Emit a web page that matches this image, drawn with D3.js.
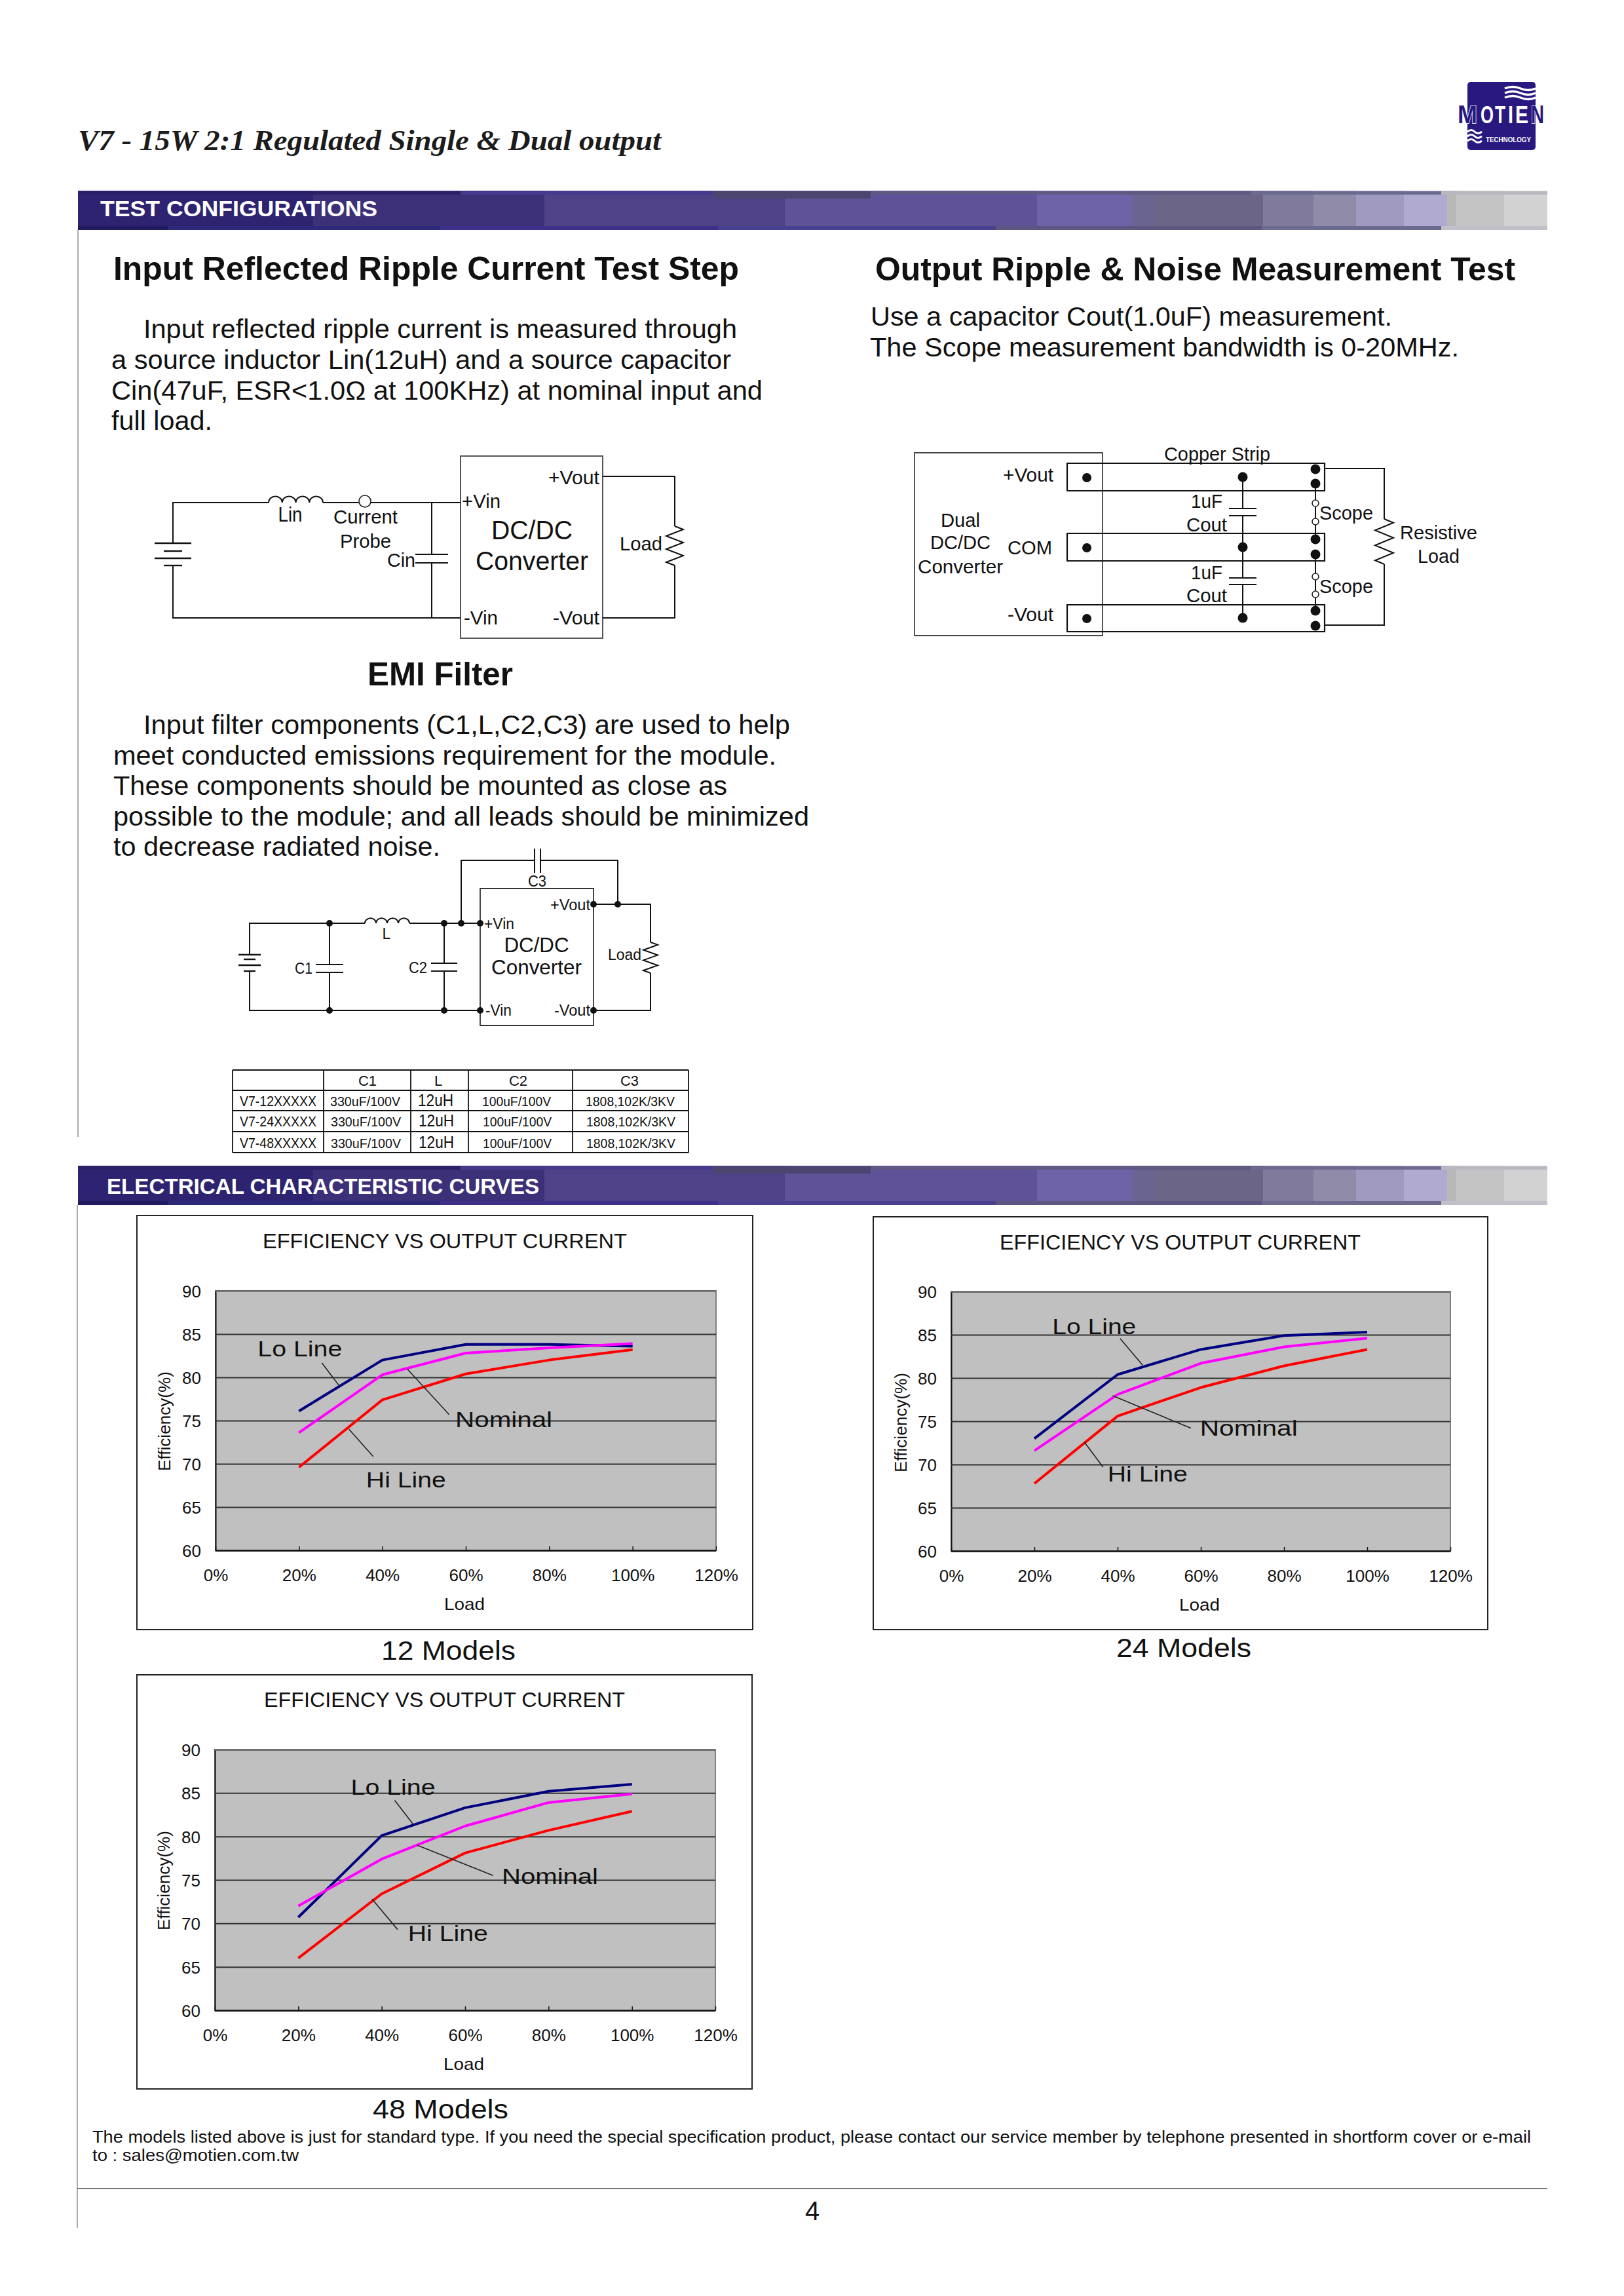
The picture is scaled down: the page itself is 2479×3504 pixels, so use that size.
<!DOCTYPE html>
<html><head><meta charset="utf-8">
<script src="https://cdn.jsdelivr.net/npm/d3@7/dist/d3.min.js"></script>
<style>html,body{margin:0;padding:0;background:#fff}svg{display:block}text{font-family:"Liberation Sans",Arial,sans-serif;fill:#111}</style>
</head><body><svg id="page" width="2479" height="3504"></svg>
<script>
// ---------- chart data ----------
const loads = [20, 40, 60, 80, 100];
const xTicks = [0, 20, 40, 60, 80, 100, 120];
const yTicks = [60, 65, 70, 75, 80, 85, 90];
const chartTitle = "EFFICIENCY VS OUTPUT CURRENT";
const lo12  = [76.1, 82.0, 83.8, 83.8, 83.6];
const nom12 = [73.6, 80.3, 82.8, 83.4, 83.9];
const hi12  = [69.6, 77.4, 80.4, 82.0, 83.2];
const lo24  = [73.0, 80.4, 83.3, 84.9, 85.3];
const nom24 = [71.6, 78.1, 81.7, 83.6, 84.6];
const hi24  = [67.8, 75.6, 78.9, 81.4, 83.3];
const lo48  = [70.7, 80.1, 83.3, 85.2, 86.0];
const nom48 = [72.0, 77.4, 81.2, 83.9, 84.9];
const hi48  = [66.0, 73.4, 78.1, 80.7, 82.9];
// annotations in data units: [load%, efficiency]
const labels12 = [["Lo Line",10.1,82.46,129],["Nominal",57.5,74.27,148],["Hi Line",36.1,67.3,122]];
const labels24 = [["Lo Line",24.3,85.1,128],["Nominal",59.8,73.3,149],["Hi Line",37.6,68.05,122]];
const labels48 = [["Lo Line",32.6,84.8,129],["Nominal",68.8,74.55,147],["Hi Line",46.3,68.0,122]];
const leaders12 = [[25.5,81.67,29.7,78.99],[45.9,81.0,56,75.7],[32,74.0,37.8,70.85]];
const leaders24 = [[40.6,84.57,46,81.5],[38.8,77.95,57.6,74.2],[32,72.6,36.5,69.7]];
const leaders48 = [[43.1,84.16,47.5,81.42],[48.5,79,66.7,75.5],[37.7,72.8,43.8,69.3]];
// EMI table
const tableHead = ["", "C1", "L", "C2", "C3"];
const tableRows = [
 ["V7-12XXXXX","330uF/100V","12uH","100uF/100V","1808,102K/3KV"],
 ["V7-24XXXXX","330uF/100V","12uH","100uF/100V","1808,102K/3KV"],
 ["V7-48XXXXX","330uF/100V","12uH","100uF/100V","1808,102K/3KV"]];

// ---------- helpers ----------
const svg = d3.select("#page");
function T(x,y,s,size,o={}){ // o.w forces the measured width, o.a anchor
  const e = (o.p||svg).append("text").attr("x",x).attr("y",y).attr("font-size",size).text(s);
  if(o.a) e.attr("text-anchor",o.a);
  if(o.b) e.attr("font-weight","bold");
  if(o.fill) e.style("fill",o.fill);
  if(o.w) e.attr("textLength",o.w).attr("lengthAdjust","spacingAndGlyphs");
  if(o.serif) e.style("font-family",'"Liberation Serif",serif').attr("font-style","italic");
  return e;
}
function W(d,sw=2,c="#111"){svg.append("path").attr("d",d).attr("fill","none").attr("stroke",c).attr("stroke-width",sw);}
function dot(x,y,r=6){svg.append("circle").attr("cx",x).attr("cy",y).attr("r",r).attr("fill","#111");}
function ring(x,y,r){svg.append("circle").attr("cx",x).attr("cy",y).attr("r",r).attr("fill","#fff").attr("stroke","#222").attr("stroke-width",1.6);}
function inductor(x0,x1,y,n=4){const w=(x1-x0)/n;let d=`M${x0},${y}`;for(let i=0;i<n;i++){d+=`A${w/2},${w/2.2} 0 0 1 ${x0+w*(i+1)},${y}`;}W(d);}
function zig(x,y0,y1,a=13,n=6){const h=(y1-y0)/n;let d=`M${x},${y0}L${x+a},${y0+h/2}`;for(let i=1;i<n;i++){d+=`L${x+(i%2?-a:a)},${y0+h/2+h*i}`;}d+=`L${x},${y1}`;W(d);}
function capH(x,y0,y1,hw){W(`M${x-hw},${y0}H${x+hw}M${x-hw},${y1}H${x+hw}`,2.2);}
function battery(x,ys,wide,narrow){ys.forEach((y,i)=>W(`M${x-(i%2?narrow:wide)},${y}H${x+(i%2?narrow:wide)}`,2.4));}

// ---------- title + logo ----------
T(119,229,"V7 - 15W 2:1 Regulated Single & Dual output",44,{b:1,serif:1,w:890,fill:"#1c1c1c"});
(function logo(){
  const g=svg.append("g");
  g.append("rect").attr("x",2240).attr("y",125).attr("width",104).attr("height",104).attr("rx",5).attr("fill","#28187f");
  [0,7,14].forEach(d=>{
    g.append("path").attr("d",`M2297,${135+d}q12,-5 24,0t23,0`).attr("fill","none").attr("stroke","#fff").attr("stroke-width",3.5);
    g.append("path").attr("d",`M2240,${201+d}q6,-5 11,0t11,0`).attr("fill","none").attr("stroke","#fff").attr("stroke-width",3);
  });
  [["M",2225,30],["N",2337,20]].forEach(l=>{
    T(l[1],188,l[0],38,{p:g,b:1,w:l[2],fill:"#28187f"}).attr("stroke","#fff").attr("stroke-width",1.5).attr("paint-order","stroke");
  });
  [["O",2260,20],["T",2282,16],["I",2302,8],["E",2313,20]].forEach(l=>T(l[1],188,l[0],36,{p:g,b:1,w:l[2],fill:"#fff"}));
  T(2268,217,"TECHNOLOGY",11,{p:g,b:1,w:69,fill:"#fff"});
})();

// ---------- section bands ----------
const bandEdges = [119,478,831,1198,1583,1729,1762,1928,2005,2070,2143,2209,2223,2296,2362];
const bandFill = ["#2d2370","#3c3178","#4f4288","#5f5298","#6e62a8","#6a6590","#6b6588","#807a9c","#908ba8","#a09ac0","#b0aad0","#b8b8b8","#c4c4c4","#d2d2d2"];
const topEdges = [119,703,1089,1329,1910,2200,2362], topFill=["#2b2068","#453a8c","#4c4570","#5f5a82","#6d6a90","#b8b8c0"];
const botEdges = [119,256,672,1096,1520,1926,2200,2362], botFill=["#201a60","#2e2878","#3c3088","#4a4090","#5c5680","#6d6a90","#c0c0c8"];
function band(y,label,tx,ty,tw){
  bandFill.forEach((c,i)=>svg.append("rect").attr("x",bandEdges[i]).attr("y",y).attr("width",bandEdges[i+1]-bandEdges[i]).attr("height",60).attr("fill",c));
  topFill.forEach((c,i)=>svg.append("rect").attr("x",topEdges[i]).attr("y",y+1).attr("width",topEdges[i+1]-topEdges[i]).attr("height",i==2?11:5).attr("fill",c));
  botFill.forEach((c,i)=>svg.append("rect").attr("x",botEdges[i]).attr("y",y+54).attr("width",botEdges[i+1]-botEdges[i]).attr("height",6).attr("fill",c));
  T(tx,ty,label,33,{b:1,fill:"#fff",w:tw});
}
band(291,"TEST CONFIGURATIONS",153,330,423);
band(1779,"ELECTRICAL CHARACTERISTIC CURVES",163,1822,660);
// page rules
W("M119,351V1735",2,"#aaa");
W("M118,1839V3400",2,"#aaa");
W("M118,3340H2362",2,"#777");

// ---------- headings + paragraphs ----------
T(173,427,"Input Reflected Ripple Current Test Step",50,{b:1,w:955});
T(1336,428,"Output Ripple & Noise Measurement Test",50,{b:1,w:977});
T(561,1046,"EMI Filter",50,{b:1,w:222});
[[219,516,906,"Input reflected ripple current is measured through"],
 [170,563,946,"a source inductor Lin(12uH) and a source capacitor"],
 [170,610,994,"Cin(47uF, ESR<1.0\u03A9 at 100KHz) at nominal input and"],
 [170,656,154,"full load."],
 [1329,497,796,"Use a capacitor Cout(1.0uF) measurement."],
 [1328,544,899,"The Scope measurement bandwidth is 0-20MHz."],
 [219,1120,987,"Input filter components (C1,L,C2,C3) are used to help"],
 [173,1167,1012,"meet conducted emissions requirement for the module."],
 [173,1213,937,"These components should be mounted as close as"],
 [173,1260,1062,"possible to the module; and all leads should be minimized"],
 [173,1306,499,"to decrease radiated noise."]
].forEach(r=>T(r[0],r[1],r[3],41,{w:r[2]}));

// ---------- schematic 1 ----------
W("M703,696H920V974H703Z",2,"#555");
W("M264,828V767H410");inductor(410,493,767);W("M493,767H548M566,767H703");ring(557,765,9);
W("M659,767V846M659,859V943M264,863V943H703");
capH(659,846,859,25);battery(264,[829,841,852,863],28,14);
W("M920,727H1030V803");zig(1030,803,863);W("M1030,863V943H920");
[[443,796,"Lin",31,"middle",37],[558,799,"Current",30,"middle",98],[558,836,"Probe",30,"middle",78],[591,865,"Cin",30,null,43],
 [837,739,"+Vout",30,null,78],[705,775,"+Vin",30,null,59],[812,823,"DC/DC",40,"middle",124],[812,870,"Converter",40,"middle",172],
 [946,840,"Load",30,null,65],[708,953,"-Vin",30,null,52],[844,953,"-Vout",30,null,71]
].forEach(r=>T(r[0],r[1],r[2],r[3],{a:r[4],w:r[5]}));

// ---------- schematic 2 ----------
W("M1396,691H1683V970H1396Z",1.8,"#444");
[[707,749],[814,856],[923,964]].forEach(s=>W(`M1629,${s[0]}H2022V${s[1]}H1629Z`,2.2));
[729,836,944].forEach(y=>dot(1659,y,7));
[728,835,943].forEach(y=>dot(1897,y,7.5));
[716,738,823,846,932,955].forEach(y=>dot(2008,y,7.5));
W("M1897,728V776M1897,787V882M1897,892V943");capH(1897,776,787,21);capH(1897,882,892,21);
W("M2008,738V823M2008,846V932",2);
[768,796,880,907].forEach(y=>ring(2008,y,5));
W("M2022,715H2113V792");zig(2113,792,861,14);W("M2113,861V954H2022");
[[1777,703,"Copper Strip",162],[1531,735,"+Vout",77],[1538,846,"COM",68],[1538,948,"-Vout",70],
 [1818,775,"1uF",48],[1811,811,"Cout",62],[1818,884,"1uF",48],[1811,919,"Cout",62],
 [2014,793,"Scope",82],[2014,905,"Scope",82],[2137,823,"Resistive",118]
].forEach(r=>T(r[0],r[1],r[2],30,{w:r[3]}));
[[804,"Dual",60],[838,"DC/DC",92],[875,"Converter",130]].forEach(r=>T(1466,r[0],r[1],30,{a:"middle",w:r[2]}));
T(2196,859,"Load",30,{a:"middle",w:64});

// ---------- schematic 3 ----------
W("M733,1356H906V1565H733Z",1.8,"#333");
W("M704,1409V1313H816M825,1313H943V1380");
W("M816,1295V1332M825,1295V1332",2);
W("M381,1457V1409H557");inductor(557,625,1409);W("M625,1409H733");
W("M381,1482V1542H733M503,1409V1472M503,1484V1542M678,1409V1470M678,1482V1542");
capH(503,1472,1484,21);capH(678,1470,1482,20);battery(381,[1457,1464,1473,1482],17,9);
W("M906,1380H993V1438");zig(993,1438,1485,11);W("M993,1485V1542H906");
[[503,1409],[678,1409],[704,1409],[733,1409],[503,1542],[678,1542],[733,1542],[906,1380],[943,1380],[906,1542]].forEach(p=>dot(p[0],p[1],5));
T(820,1353,"C3",23,{a:"middle",w:28});T(840,1389,"+Vout",23,{w:61});T(739,1418,"+Vin",23,{w:46});
T(819,1453,"DC/DC",31,{a:"middle",w:99});T(819,1487,"Converter",31,{a:"middle",w:138});
T(928,1465,"Load",23,{w:51});T(450,1486,"C1",23,{w:27});T(624,1485,"C2",23,{w:28});T(590,1433,"L",23,{a:"middle"});
T(741,1550,"-Vin",23,{w:40});T(846,1550,"-Vout",23,{w:55});

// ---------- EMI table ----------
const colX=[355,494,627,715,874,1051], rowY=[1633,1664,1695,1727,1759];
rowY.forEach(y=>W(`M355,${y}H1051`,1.8));
colX.forEach(x=>W(`M${x},1633V1759`,1.8));
const headCx=[0,561,669,791,961];
tableHead.forEach((h,i)=>{if(h)T(headCx[i],1657,h,22,{a:"middle"});});
const rowBase=[1688,1719,1752], cellX=[366,504,638,736,894], cellW=[117,107,54,105,136], cellF=[22,21,26,21,21];
tableRows.forEach((r,j)=>r.forEach((c,i)=>T(cellX[i]+(j&&i?1:0),rowBase[j],c,cellF[i],{w:cellW[i]})));

// ---------- efficiency charts ----------
function chart(c){
  const g=svg.append("g");
  g.append("rect").attr("x",c.fx0).attr("y",c.fy0).attr("width",c.fx1-c.fx0).attr("height",c.fy1-c.fy0).attr("fill","#fff").attr("stroke","#222").attr("stroke-width",2);
  const x=d3.scaleLinear().domain([0,120]).range([c.px0,c.px1]);
  const y=d3.scaleLinear().domain([60,90]).range([c.py1,c.py0]);
  g.append("rect").attr("x",c.px0).attr("y",c.py0).attr("width",c.px1-c.px0).attr("height",c.py1-c.py0).attr("fill","#c0c0c0").attr("stroke","#808080").attr("stroke-width",2);
  const ya=g.append("g").attr("transform",`translate(${c.px0},0)`)
    .call(d3.axisLeft(y).tickValues(yTicks).tickSize(-(c.px1-c.px0)).tickPadding(22));
  ya.selectAll(".tick line").attr("stroke","#333").attr("stroke-width",2);
  ya.selectAll(".tick").filter(d=>d===90).select("line").attr("stroke","#808080");
  ya.select(".domain").attr("stroke","#111").attr("stroke-width",2);
  ya.selectAll("text").attr("font-size",26).attr("dy","0.36em").style("font-family",'"Liberation Sans",sans-serif').style("fill","#111");
  const xa=g.append("g").attr("transform",`translate(0,${c.py1})`)
    .call(d3.axisBottom(x).tickValues(xTicks).tickFormat(d=>d+"%").tickSizeInner(-6).tickSizeOuter(0).tickPadding(29));
  xa.selectAll(".tick line").attr("stroke","#111").attr("stroke-width",1.5);
  xa.select(".domain").attr("stroke","#111").attr("stroke-width",2);
  xa.selectAll("text").attr("font-size",26).style("font-family",'"Liberation Sans",sans-serif').style("fill","#111");
  const line=d3.line().x((d,i)=>x(loads[i])).y(d=>y(d));
  [[c.lo,"#000080"],[c.nom,"#ff00ff"],[c.hi,"#ff0000"]].forEach(s=>
    g.append("path").datum(s[0]).attr("d",line).attr("fill","none").attr("stroke",s[1]).attr("stroke-width",4).attr("stroke-linejoin","round"));
  c.leaders.forEach(l=>g.append("line").attr("x1",x(l[0])).attr("y1",y(l[1])).attr("x2",x(l[2])).attr("y2",y(l[3])).attr("stroke","#222").attr("stroke-width",1.6));
  c.labels.forEach(l=>T(x(l[1]),y(l[2]),l[0],33,{p:g,w:l[3]}));
  T(c.tx,c.ty,chartTitle,32,{p:g,w:c.tw});
  T((c.px0+c.px1)/2-2+c.ldx,c.py1+91,"Load",26,{p:g,a:"middle",w:62});
  g.append("text").attr("transform",`translate(${c.ex},${c.ey}) rotate(-90)`).attr("text-anchor","middle").attr("font-size",26).attr("textLength",152).attr("lengthAdjust","spacingAndGlyphs").text("Efficiency(%)");
  T(c.mx,c.my,c.model,40,{p:g,w:c.mw});
}
chart({fx0:209,fx1:1149,fy0:1855,fy1:2487,px0:329,px1:1093,py0:1970,py1:2366,lo:lo12,nom:nom12,hi:hi12,labels:labels12,leaders:leaders12,tx:401,ty:1905,tw:556,ldx:0,ex:260,ey:2169,model:"12 Models",mx:582,my:2533,mw:205});
chart({fx0:1333,fx1:2271,fy0:1857,fy1:2487,px0:1452,px1:2214,py0:1971,py1:2367,lo:lo24,nom:nom24,hi:hi24,labels:labels24,leaders:leaders24,tx:1526,ty:1907,tw:551,ldx:0,ex:1384,ey:2171,model:"24 Models",mx:1704,my:2529,mw:206});
chart({fx0:209,fx1:1148,fy0:2556,fy1:3188,px0:328,px1:1092,py0:2670,py1:3068,lo:lo48,nom:nom48,hi:hi48,labels:labels48,leaders:leaders48,tx:403,ty:2605,tw:551,ldx:0,ex:259,ey:2870,model:"48 Models",mx:569,my:3233,mw:207});

// ---------- footer ----------
T(141,3270,"The models listed above is just for standard type. If you need the special specification product, please contact our service member by telephone presented in shortform cover or e-mail",25,{w:2196});
T(141,3298,"to : sales@motien.com.tw",25,{w:315});
T(1240,3388,"4",40,{a:"middle"});
</script></body></html>
